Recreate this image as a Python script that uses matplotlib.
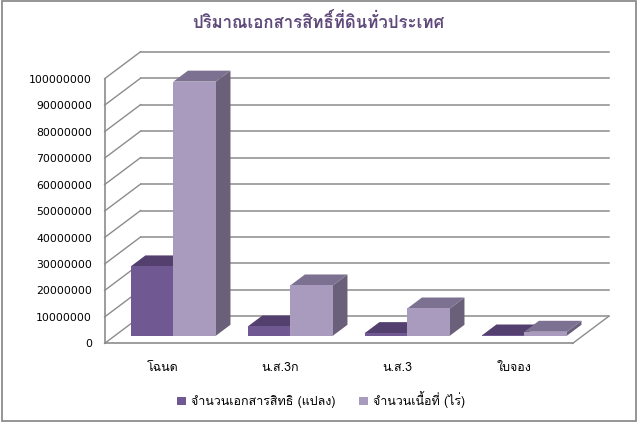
"""Pseudo-3D clustered column chart, Excel 2007 look, drawn on plain 2D axes."""
import matplotlib
matplotlib.use("Agg")
import matplotlib.pyplot as plt
from matplotlib import font_manager as fm
from matplotlib.ft2font import FT2Font
from matplotlib.patches import Patch, Polygon, Rectangle

categories = ["โฉนด", "น.ส.3ก", "น.ส.3", "ใบจอง"]
series_names = ["จำนวนเอกสารสิทธิ (แปลง)", "จำนวนเนื้อที่ (ไร่)"]
doc_counts = [26200000, 3500000, 1000000, 100000]
area_rai = [96000000, 19000000, 10300000, 1500000]
y_ticks = list(range(0, 100000001, 10000000))
title = "ปริมาณเอกสารสิทธิ์ที่ดินทั่วประเทศ"

W, H = 638, 423
GRAY = "#8c8c8c"
FRONT = ["#705892", "#a99bbe"]
TOP = ["#54406f", "#7c7190"]
SIDE = ["#4d3a66", "#6a6079"]


def thai_fonts():
    # whichever installed family actually has Thai glyphs goes first
    found = []
    for f in fm.fontManager.ttflist:
        try:
            if 0x0E01 in FT2Font(f.fname).get_charmap() and f.name not in found:
                found.append(f.name)
        except Exception:
            pass
    return found


thai = thai_fonts()
plt.rcParams["font.family"] = thai + ["DejaVu Sans"]

fig = plt.figure(figsize=(W / 100, H / 100), dpi=100, facecolor="white")

# frame round the chart
frame = fig.add_axes([0, 0, 1, 1])
frame.set_xlim(0, W)
frame.set_ylim(H, 0)
frame.axis("off")
frame.add_patch(Rectangle((1.5, 1.5), 634.5, 420, fc="white", ec=GRAY, lw=1.3))

# axes = the front plane of the box
LEFT, RIGHT, Y0, Y100 = 104.6, 572.6, 343.4, 78.7
ax = fig.add_axes([LEFT / W, (H - Y0) / H, (RIGHT - LEFT) / W, (Y0 - Y100) / H])
ax.set_xlim(0, len(categories))
ax.set_ylim(0, y_ticks[-1])
ax.patch.set_alpha(0)

px_x = len(categories) / (RIGHT - LEFT)
px_y = y_ticks[-1] / (Y0 - Y100)
DEPTH_X, DEPTH_Y = 36, 27


def proj(x, y, d):
    # d is depth in the box, 0 front to 1 back
    return x + d * DEPTH_X * px_x, y + d * DEPTH_Y * px_y


# back wall, left wall, floor
for t in y_ticks:
    ax.plot(*zip(proj(0, t, 1), proj(len(categories), t, 1)), color=GRAY, lw=1.1,
            clip_on=False, zorder=1)
    ax.plot(*zip(proj(0, t, 0), proj(0, t, 1)), color=GRAY, lw=1.0, clip_on=False, zorder=1)
ax.plot(*zip(proj(len(categories), 0, 0), proj(len(categories), 0, 1)), color=GRAY, lw=1.0,
        clip_on=False, zorder=1)

# columns
BAR_W = 0.3635
D0, D1 = 0.285, 0.69
z = 3
for i in range(len(categories)):
    for s, vals in enumerate([doc_counts, area_rai]):
        x0 = i + 0.5 - BAR_W + s * BAR_W
        x1 = x0 + BAR_W
        v = vals[i]
        a = proj(x0, 0, D0)
        ax.add_patch(Rectangle(a, BAR_W, v, fc=FRONT[s], ec="none", clip_on=False, zorder=z + 2))
        ax.add_patch(Polygon([proj(x0, v, D0), proj(x1, v, D0), proj(x1, v, D1), proj(x0, v, D1)],
                             fc=TOP[s], ec="none", clip_on=False, zorder=z + 1))
        ax.add_patch(Polygon([proj(x1, 0, D0), proj(x1, v, D0), proj(x1, v, D1), proj(x1, 0, D1)],
                             fc=SIDE[s], ec="none", clip_on=False, zorder=z))
    z += 3

for side in ["top", "right"]:
    ax.spines[side].set_visible(False)
for side in ["left", "bottom"]:
    ax.spines[side].set_color(GRAY)
    ax.spines[side].set_linewidth(1.2)

ax.set_yticks(y_ticks)
ax.set_yticklabels([str(t) for t in y_ticks], fontsize=7.8, color="black", family="DejaVu Sans")
ax.set_xticks([i + 0.5 for i in range(len(categories))])
ax.set_xticklabels(categories, fontsize=9, color="black")
ax.tick_params(axis="y", length=0, pad=9)
ax.tick_params(axis="x", length=0, pad=13.5)

frame.text(318, 21, title, ha="center", va="center", fontsize=12.1, fontweight="bold",
           color="#5f497a")

handles = [Patch(fc=FRONT[0], label=series_names[0]), Patch(fc=FRONT[1], label=series_names[1])]
fig.legend(handles=handles, loc="center", bbox_to_anchor=(321 / W, (H - 400) / H), ncol=2,
           frameon=False, fontsize=9, handlelength=0.68, handleheight=0.68, handletextpad=0.4,
           columnspacing=1.9)

fig.savefig("out.png", dpi=100, facecolor="white")
